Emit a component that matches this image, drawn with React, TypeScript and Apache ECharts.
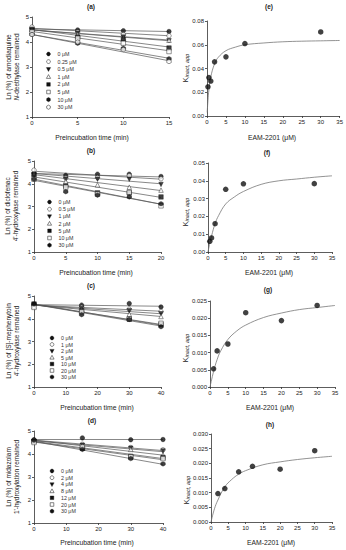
import React, { useEffect, useRef } from "react";
import * as echarts from "echarts";

// ---------- Data: left panels (time course, Ln % remaining) ----------
const TIME_A = [0, 5, 10, 15];
const CONC_A = ["0 μM", "0.25 μM", "0.5 μM", "1 μM", "2 μM", "5 μM", "10 μM", "30 μM"];
const VALUES_A = [
  [4.55, 4.48, 4.45, 4.42],
  [4.6, 4.4, 4.3, 4.25],
  [4.45, 4.35, 4.2, 4.05],
  [4.5, 4.3, 4.15, 4.07],
  [4.5, 4.2, 4.1, 3.76],
  [4.4, 4.15, 3.95, 3.62],
  [4.3, 3.95, 3.75, 3.33],
  [4.3, 4.0, 3.7, 3.22],
];
const FIT_A = [
  [4.52, 4.42], [4.55, 4.25], [4.48, 4.08], [4.48, 4.05],
  [4.5, 3.8], [4.42, 3.65], [4.3, 3.35], [4.3, 3.25],
];

const TIME_B = [0, 5, 10, 15, 20];
const CONC_B = ["0 μM", "0.5 μM", "1 μM", "2 μM", "5 μM", "10 μM", "30 μM"];
const VALUES_B = [
  [4.45, 4.37, 4.42, 4.42, 4.32],
  [4.6, 4.25, 4.27, 4.35, 4.22],
  [4.4, 4.2, 4.2, 4.2, 3.97],
  [4.45, 4.1, 3.95, 3.85, 3.72],
  [4.4, 3.9, 3.6, 3.6, 3.42],
  [4.2, 3.85, 3.55, 3.62, 3.03],
  [4.2, 3.65, 3.5, 3.42, 3.12],
];
const FIT_B = [
  [4.45, 4.3], [4.55, 4.2], [4.45, 4.0], [4.4, 3.7],
  [4.3, 3.4], [4.2, 3.1], [4.15, 3.1],
];

const TIME_C = [0, 15, 30, 40];
const CONC_C = ["0 μM", "1 μM", "2 μM", "5 μM", "10 μM", "20 μM", "30 μM"];
const VALUES_C = [
  [4.62, 4.6, 4.67, 4.52],
  [4.6, 4.5, 4.42, 4.32],
  [4.6, 4.45, 4.35, 4.22],
  [4.55, 4.4, 4.2, 4.1],
  [4.65, 4.35, 3.98, 3.75],
  [4.5, 4.3, 4.0, 3.8],
  [4.65, 4.18, 3.97, 3.65],
];
const FIT_C = [
  [4.62, 4.55], [4.6, 4.33], [4.6, 4.22], [4.6, 4.1],
  [4.65, 3.72], [4.63, 3.75], [4.63, 3.68],
];

const TIME_D = [0, 15, 30, 40];
const CONC_D = ["0 μM", "2 μM", "4 μM", "8 μM", "12 μM", "20 μM", "30 μM"];
const VALUES_D = [
  [4.62, 4.7, 4.62, 4.63],
  [4.6, 4.42, 4.28, 4.18],
  [4.55, 4.38, 4.25, 4.13],
  [4.58, 4.35, 4.2, 3.95],
  [4.55, 4.25, 3.9, 3.85],
  [4.5, 4.3, 3.88, 3.8],
  [4.6, 4.2, 3.8, 3.57],
];
const FIT_D = [
  [4.63, 4.63], [4.6, 4.15], [4.57, 4.1], [4.6, 3.95],
  [4.55, 3.8], [4.52, 3.75], [4.55, 3.55],
];

// ---------- Data: right panels (kinact,app vs EAM-2201) ----------
const CONC_E = [0.25, 0.5, 1, 2, 5, 10, 30];
const KIN_E = [0.0246, 0.0324, 0.0294, 0.0456, 0.0498, 0.061, 0.0708];
const CURVE_E_X = [0.05, 0.25, 0.5, 1, 2, 3, 5, 7.5, 10, 15, 20, 25, 30, 35];
const CURVE_E_Y = [0.003, 0.013, 0.022, 0.033, 0.044, 0.0495, 0.055, 0.058, 0.06, 0.0615, 0.0625, 0.063, 0.0633, 0.0636];

const CONC_F = [0.5, 1, 2, 5, 10, 30];
const KIN_F = [0.006, 0.0079, 0.0159, 0.0352, 0.0383, 0.0384];
const CURVE_F_X = [0, 0.5, 1, 2, 3, 5, 7.5, 10, 15, 20, 25, 30, 35];
const CURVE_F_Y = [0, 0.005, 0.009, 0.016, 0.0205, 0.027, 0.031, 0.034, 0.038, 0.04, 0.041, 0.042, 0.0428];

const CONC_G = [1, 2, 5, 10, 20, 30];
const KIN_G = [0.0053, 0.0105, 0.0125, 0.0216, 0.0193, 0.0237];
const CURVE_G_X = [0, 1, 2, 3, 5, 7.5, 10, 15, 20, 25, 30, 35];
const CURVE_G_Y = [0, 0.0045, 0.008, 0.0105, 0.0138, 0.0163, 0.018, 0.0202, 0.0215, 0.0225, 0.0231, 0.0237];

const CONC_H = [2, 4, 8, 12, 20, 30];
const KIN_H = [0.0097, 0.0114, 0.0171, 0.019, 0.018, 0.0243];
const CURVE_H_X = [0, 1, 2, 4, 6, 8, 10, 15, 20, 25, 30, 35];
const CURVE_H_Y = [0, 0.0045, 0.0075, 0.012, 0.0145, 0.0163, 0.0175, 0.0195, 0.0205, 0.0213, 0.0219, 0.0224];

// ---------- Styles ----------
const HEX = "path://M0,-1L0.866,-0.5L0.866,0.5L0,1L-0.866,0.5L-0.866,-0.5Z";
const MARKERS = [
  { kind: "circle", symbol: "circle", filled: true, rot: 0 },
  { kind: "circle", symbol: "circle", filled: false, rot: 0 },
  { kind: "down", symbol: "triangle", filled: true, rot: 180 },
  { kind: "up", symbol: "triangle", filled: false, rot: 0 },
  { kind: "rect", symbol: "rect", filled: true, rot: 0 },
  { kind: "rect", symbol: "rect", filled: false, rot: 0 },
  { kind: "hex", symbol: HEX, filled: true, rot: 0 },
  { kind: "hex", symbol: HEX, filled: false, rot: 0 },
];

const FONT = "Liberation Sans, Arial, sans-serif";
const AXIS_COLOR = "#333";
const TEXT_COLOR = "#222";

type Grid = { left: number; top: number; width: number; height: number };

const GRIDS: Grid[] = [
  { left: 32, top: 17, width: 137, height: 100 }, // a
  { left: 34, top: 161, width: 127, height: 91 }, // b
  { left: 34, top: 296, width: 127, height: 91 }, // c
  { left: 34, top: 431, width: 129, height: 92 }, // d
  { left: 207, top: 21, width: 135, height: 95 }, // e
  { left: 208, top: 163, width: 124, height: 89 }, // f
  { left: 210, top: 301, width: 125, height: 86 }, // g
  { left: 211, top: 434, width: 121, height: 88 }, // h
];

function axisBase() {
  return {
    axisLine: { show: true, lineStyle: { color: AXIS_COLOR, width: 0.8 } },
    axisTick: { show: true, length: 2, lineStyle: { color: AXIS_COLOR, width: 0.8 } },
    splitLine: { show: false },
    axisLabel: { fontSize: 6, color: TEXT_COLOR, fontFamily: FONT, margin: 3 },
  };
}

function legendMarker(kind: string, filled: boolean, cx: number, cy: number) {
  const style = filled
    ? { fill: "#111", stroke: "#111", lineWidth: 0.4 }
    : { fill: "#fff", stroke: "#333", lineWidth: 0.6 };
  const r = 1.9;
  if (kind === "circle") return { type: "circle", silent: true, shape: { cx, cy, r }, style };
  if (kind === "rect")
    return { type: "rect", silent: true, shape: { x: cx - 1.8, y: cy - 1.8, width: 3.6, height: 3.6 }, style };
  if (kind === "up")
    return { type: "polygon", silent: true, shape: { points: [[cx, cy - 2.2], [cx + 2.1, cy + 1.6], [cx - 2.1, cy + 1.6]] }, style };
  if (kind === "down")
    return { type: "polygon", silent: true, shape: { points: [[cx, cy + 2.2], [cx + 2.1, cy - 1.6], [cx - 2.1, cy - 1.6]] }, style };
  const pts: number[][] = [];
  for (let k = 0; k < 6; k++) {
    const a = (Math.PI / 3) * k + Math.PI / 2;
    pts.push([cx + 2.1 * Math.cos(a), cy + 2.1 * Math.sin(a)]);
  }
  return { type: "polygon", silent: true, shape: { points: pts }, style };
}

function App() {
  const ref = useRef<HTMLDivElement>(null);

  useEffect(() => {
    if (!ref.current) return;
    const chart = echarts.init(ref.current, undefined, { renderer: "svg" });

    const series: any[] = [];
    const graphic: any[] = [];

    const leftPanels = [
      { time: TIME_A, conc: CONC_A, vals: VALUES_A, fit: FIT_A, xmax: 15, leg: { x: 48.5, y: 54, step: 7.6 } },
      { time: TIME_B, conc: CONC_B, vals: VALUES_B, fit: FIT_B, xmax: 20, leg: { x: 49.5, y: 202, step: 7.2 } },
      { time: TIME_C, conc: CONC_C, vals: VALUES_C, fit: FIT_C, xmax: 40, leg: { x: 52, y: 338, step: 6.5 } },
      { time: TIME_D, conc: CONC_D, vals: VALUES_D, fit: FIT_D, xmax: 40, leg: { x: 52, y: 471, step: 6.7 } },
    ];

    leftPanels.forEach((p, pi) => {
      p.conc.forEach((c, ci) => {
        series.push({
          type: "line",
          xAxisIndex: pi,
          yAxisIndex: pi,
          data: [[0, p.fit[ci][0]], [p.xmax, p.fit[ci][1]]],
          symbol: "none",
          lineStyle: { color: "#555", width: 0.7 },
          silent: true,
          z: 2,
        });
      });
      p.conc.forEach((c, ci) => {
        const m = MARKERS[ci];
        series.push({
          type: "scatter",
          name: c,
          xAxisIndex: pi,
          yAxisIndex: pi,
          data: p.time.map((t, ti) => [t, p.vals[ci][ti]]),
          symbol: m.symbol,
          symbolRotate: m.rot,
          symbolSize: 4.5,
          itemStyle: m.filled
            ? { color: "#111", borderColor: "#111", borderWidth: 0.5 }
            : { color: "#fff", borderColor: "#222", borderWidth: 0.6 },
          z: 3,
        });
        // legend row
        const cy = p.leg.y + ci * p.leg.step;
        graphic.push(legendMarker(m.kind, m.filled, p.leg.x, cy));
        graphic.push({
          type: "text",
          silent: true,
          x: p.leg.x + 9,
          y: cy,
          style: {
            text: c,
            fontSize: 5.3,
            fontFamily: FONT,
            fill: "#333",
            textAlign: "left",
            textVerticalAlign: "middle",
          },
        });
      });
    });

    const rightPanels = [
      { cx: CONC_E, ky: KIN_E, ux: CURVE_E_X, uy: CURVE_E_Y },
      { cx: CONC_F, ky: KIN_F, ux: CURVE_F_X, uy: CURVE_F_Y },
      { cx: CONC_G, ky: KIN_G, ux: CURVE_G_X, uy: CURVE_G_Y },
      { cx: CONC_H, ky: KIN_H, ux: CURVE_H_X, uy: CURVE_H_Y },
    ];
    rightPanels.forEach((p, i) => {
      const idx = i + 4;
      series.push({
        type: "line",
        xAxisIndex: idx,
        yAxisIndex: idx,
        data: p.ux.map((x, j) => [x, p.uy[j]]),
        smooth: 0.4,
        symbol: "none",
        lineStyle: { color: "#777", width: 0.8 },
        silent: true,
        z: 2,
      });
      series.push({
        type: "scatter",
        xAxisIndex: idx,
        yAxisIndex: idx,
        data: p.cx.map((x, j) => [x, p.ky[j]]),
        symbol: "circle",
        symbolSize: 5.5,
        itemStyle: { color: "#111" },
        z: 3,
      });
    });

    const xAxes: any[] = [];
    const yAxes: any[] = [];
    const leftMax = [15, 20, 40, 40];
    const leftInt = [5, 5, 10, 10];
    for (let i = 0; i < 4; i++) {
      xAxes.push({ ...axisBase(), type: "value", gridIndex: i, min: 0, max: leftMax[i], interval: leftInt[i] });
      yAxes.push({ ...axisBase(), type: "value", gridIndex: i, min: 1, max: 5, interval: 1 });
    }
    const rMax = [0.08, 0.05, 0.025, 0.03];
    const rInt = [0.02, 0.01, 0.005, 0.005];
    const rDec = [2, 2, 3, 3];
    for (let i = 0; i < 4; i++) {
      xAxes.push({ ...axisBase(), type: "value", gridIndex: i + 4, min: 0, max: 35, interval: 5 });
      const base = axisBase();
      yAxes.push({
        ...base,
        type: "value",
        gridIndex: i + 4,
        min: 0,
        max: rMax[i],
        interval: rInt[i],
        axisLabel: { ...base.axisLabel, formatter: (v: number) => v.toFixed(rDec[i]) },
      });
    }

    const txt = (text: string, x: number, y: number, size: number, extra: any = {}) => ({
      type: "text",
      x,
      y,
      silent: true,
      style: {
        text,
        fontSize: size,
        fontFamily: FONT,
        fill: TEXT_COLOR,
        textAlign: "center",
        textVerticalAlign: "middle",
        ...extra,
      },
    });

    const titles = [
      ["(a)", 91, 6], ["(e)", 269, 6], ["(b)", 91, 150], ["(f)", 267, 152],
      ["(c)", 91, 285], ["(g)", 268, 289], ["(d)", 92, 420], ["(h)", 270, 424],
    ];
    const xNames = [
      ["Preincubation time (min)", 92, 137], ["Preincubation time (min)", 96, 272],
      ["Preincubation time (min)", 97, 407], ["Preincubation time (min)", 97, 542],
      ["EAM-2201 (μM)", 272, 137], ["EAM-2201 (μM)", 269, 272],
      ["EAM-2201 (μM)", 270, 407], ["EAM-2201 (μM)", 271, 542],
    ];

    const rot = Math.PI / 2;
    const richLeft = {
      t: { fontSize: 6.5, fontFamily: FONT, fill: TEXT_COLOR, lineHeight: 8 },
      i: { fontSize: 6.5, fontFamily: FONT, fill: TEXT_COLOR, fontStyle: "italic", lineHeight: 8 },
    };
    const yLeft = [
      ["{t|Ln (%) of amodiaquine}\n{i|N}{t|-deethylase remained}", 12, 67],
      ["{t|Ln (%) of diclofenac}\n{t|4'-hydroxylase remained}", 11.5, 206],
      ["{t|Ln (%) of [S]-mephenytoin}\n{t|4'-hydroxylase remained}", 12, 341],
      ["{t|Ln (%) of midazolam}\n{t|1'-hydroxylation remained}", 12, 477],
    ];
    const richK = {
      k: { fontSize: 7, fontFamily: FONT, fill: TEXT_COLOR },
      s: { fontSize: 5.5, fontFamily: FONT, fill: TEXT_COLOR, fontStyle: "italic", padding: [3, 0, 0, 0] },
    };
    const yRight = [
      [185, 68], [185, 212], [185, 348], [186, 490],
    ];

    graphic.push(
      ...titles.map(([t, x, y]) => txt(t as string, x as number, y as number, 6.5, { fontWeight: "bold" })),
      ...xNames.map(([t, x, y]) => txt(t as string, x as number, y as number, 6.8)),
      ...yLeft.map(([t, x, y]) => ({
        ...txt(t as string, x as number, y as number, 6.5, { rich: richLeft }),
        rotation: rot,
      })),
      ...yRight.map(([x, y]) => ({
        ...txt("{k|K}{s|inact, app}", x, y, 7, { rich: richK }),
        rotation: rot,
      }))
    );

    chart.setOption({
      animation: false,
      backgroundColor: "#fff",
      textStyle: { fontFamily: FONT },
      grid: GRIDS.map((g) => ({ ...g, containLabel: false })),
      xAxis: xAxes,
      yAxis: yAxes,
      series,
      graphic,
    });

    return () => chart.dispose();
  }, []);

  return (
    <div
      ref={ref}
      style={{ position: "fixed", left: 0, top: 0, width: 346, height: 550, background: "#fff" }}
    />
  );
}

export default App;
